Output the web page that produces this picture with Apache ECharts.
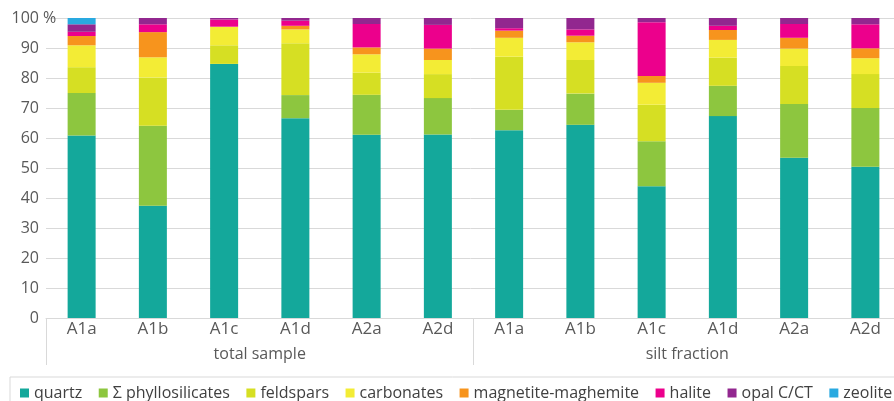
<!DOCTYPE html>
<html>
<head>
<meta charset="utf-8">
<script src="https://cdn.jsdelivr.net/npm/echarts@6/dist/echarts.min.js"></script>
<style>
  html, body { margin: 0; padding: 0; background: #fff; }
  #chart { width: 894px; height: 401px; }
</style>
</head>
<body>
<div id="chart"></div>
<script>
var samples = ['A1a', 'A1b', 'A1c', 'A1d', 'A2a', 'A2d', 'A1a', 'A1b', 'A1c', 'A1d', 'A2a', 'A2d'];
var groups = ['total sample', 'silt fraction'];

var quartz     = [60.8, 37.4, 84.7, 66.6, 61.1, 61.2, 62.6, 64.4, 43.9, 67.3, 53.4, 50.4];
var phyllo     = [14.2, 26.7, 0,    7.7,  13.3, 12.1, 6.8,  10.4, 15.0, 10.1, 17.9, 19.6];
var feldspars  = [8.6,  16.1, 6.2,  17.3, 7.4,  8.0,  17.7, 11.2, 12.2, 9.4,  12.7, 11.3];
var carbonates = [7.3,  6.7,  6.2,  4.6,  6.1,  4.7,  6.3,  5.9,  7.3,  5.9,  5.8,  5.3];
var magnetite  = [3.1,  8.4,  0,    1.2,  2.3,  3.8,  2.4,  2.2,  2.3,  3.3,  3.6,  3.3];
var halite     = [1.4,  2.6,  2.4,  1.7,  7.8,  7.9,  0.8,  2.1,  17.9, 1.4,  4.6,  8.0];
var opal       = [2.5,  2.1,  0.5,  0.9,  2.0,  2.3,  3.4,  3.8,  1.4,  2.6,  2.0,  2.1];
var zeolite    = [2.1,  0,    0,    0,    0,    0,    0,    0,    0,    0,    0,    0];

var seriesNames = ['quartz', 'Σ phyllosilicates', 'feldspars', 'carbonates', 'magnetite-maghemite', 'halite', 'opal C/CT', 'zeolite'];
var seriesData = [quartz, phyllo, feldspars, carbonates, magnetite, halite, opal, zeolite];
var colors = ['#14A89B', '#8DC63F', '#D6DF23', '#F3EC35', '#F7941D', '#EC008C', '#92278F', '#29A9E0'];

var font = 'Open Sans';
var txt = '#595959';
var line = '#d9d9d9';

var chart = echarts.init(document.getElementById('chart'));
chart.setOption({
    animation: false,
    color: colors,
    textStyle: { fontFamily: font },
    grid: { left: 46, right: -7, top: 18, bottom: 83, containLabel: false, outerBoundsMode: 'none' },
    legend: {
        data: seriesNames,
        left: 10,
        top: 377,
        width: 900,
        padding: [8, 10, 8, 10],
        itemGap: 16.5,
        itemWidth: 9,
        itemHeight: 9,
        icon: 'rect',
        borderColor: line,
        borderWidth: 1,
        textStyle: { color: '#404040', fontSize: 16, fontFamily: font }
    },
    xAxis: [{
        type: 'category',
        data: samples,
        axisLine: { show: true, lineStyle: { color: line } },
        axisTick: { show: false },
        axisLabel: { color: txt, fontSize: 17, margin: 3, interval: 0 }
    }, {
        type: 'category',
        data: groups,
        position: 'bottom',
        axisLine: { show: false },
        axisTick: { show: true, length: 47, interval: 0, lineStyle: { color: line } },
        axisLabel: { color: txt, fontSize: 16, margin: 28 }
    }],
    yAxis: [{
        type: 'value',
        position: 'left',
        min: 0,
        max: 100,
        interval: 10,
        axisLine: { show: false },
        axisTick: { show: false },
        splitLine: { lineStyle: { color: line } },
        axisLabel: { color: txt, fontSize: 16, margin: 7 }
    }, {
        // the "%" hangs right of the "100" label, as in the source
        type: 'value',
        position: 'left',
        min: 0,
        max: 100,
        interval: 10,
        axisLine: { show: false },
        axisTick: { show: false },
        splitLine: { show: false },
        axisLabel: {
            color: txt,
            fontSize: 16,
            margin: 3,
            align: 'left',
            formatter: function (v) { return v === 100 ? '%' : ''; }
        }
    }],
    series: seriesNames.map(function (name, i) {
        return {
            name: name,
            type: 'bar',
            stack: 'total',
            xAxisIndex: 0,
            yAxisIndex: 0,
            barWidth: 28,
            data: seriesData[i]
        };
    })
});
</script>
</body>
</html>
